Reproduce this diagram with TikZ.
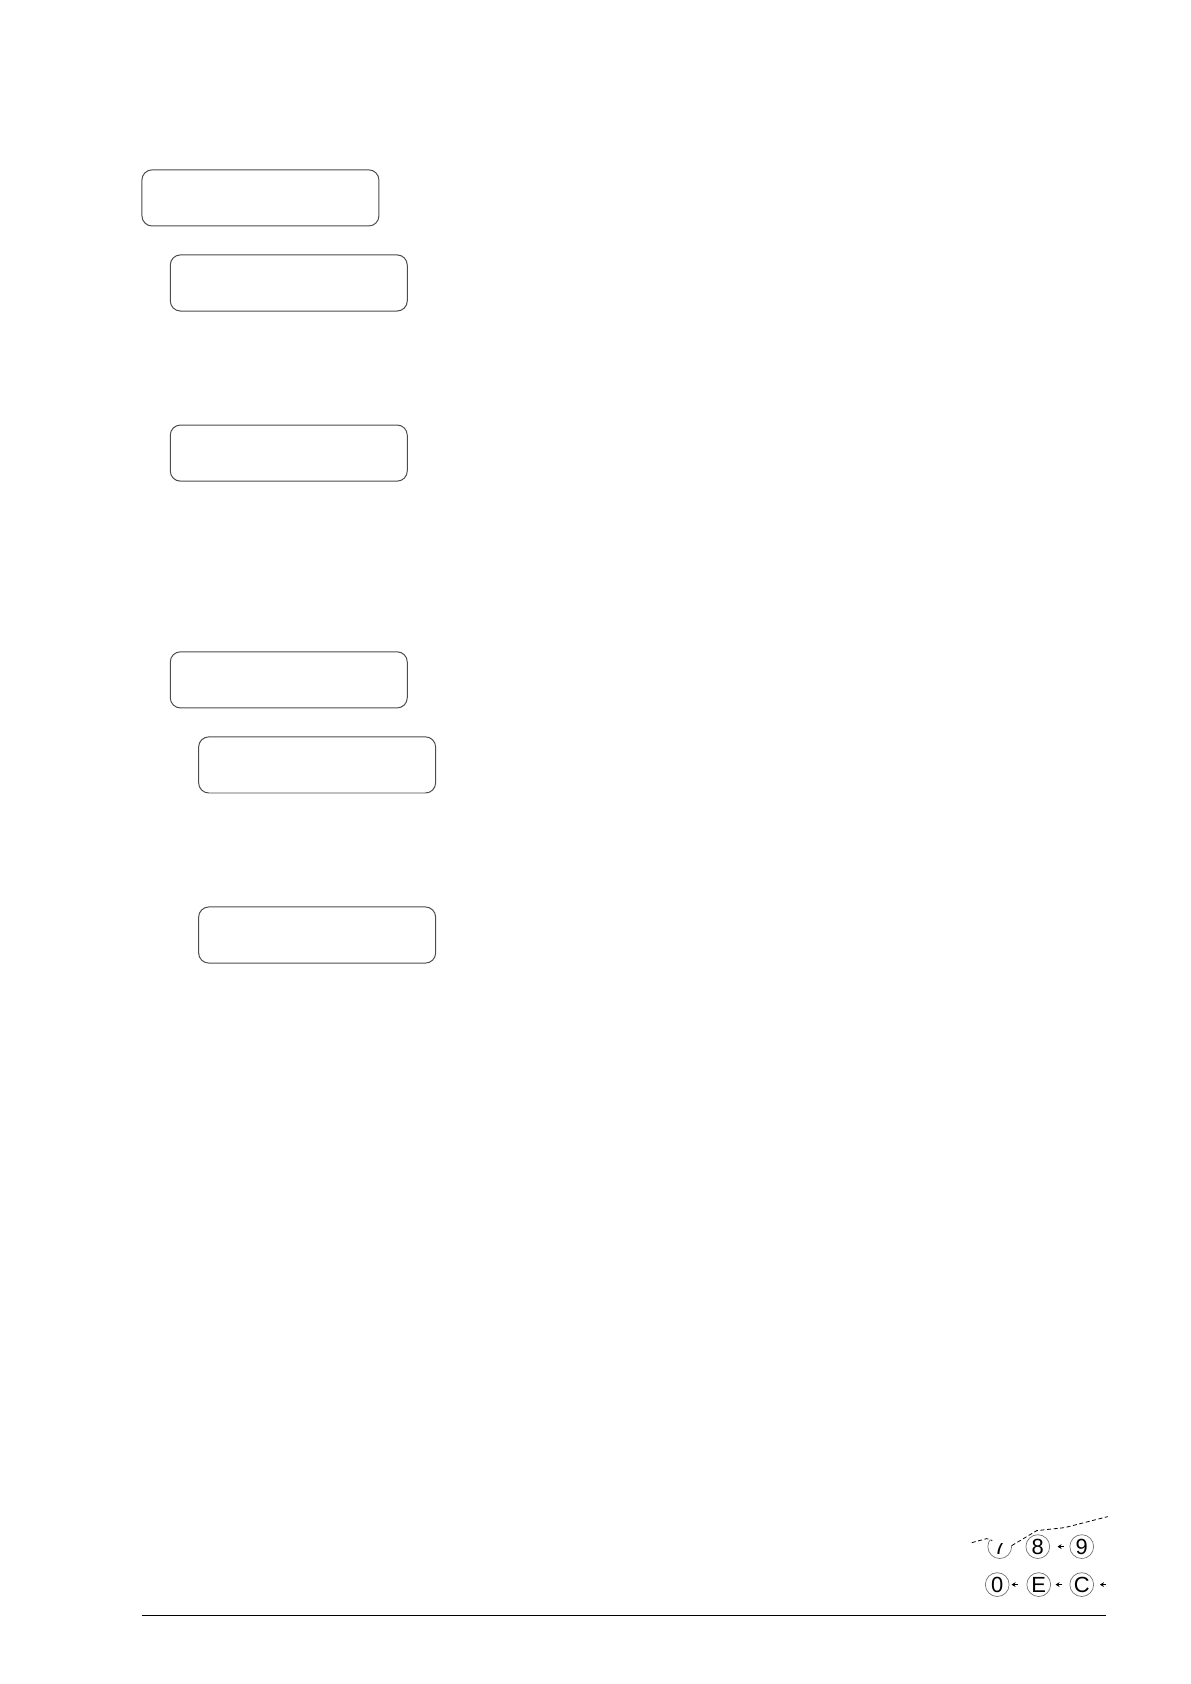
\documentclass[tikz,border=0pt]{standalone}
\usepackage{xcolor}
\usepackage{fontspec}
\newfontfamily\keyfont{Liberation Sans}
\usepackage{tikz}
\usetikzlibrary{shapes, arrows.meta, positioning, calc}
\tikzset{
    % LCD screens
    screen/.style={rectangle, rounded corners=0.18cm, draw=black!70, line width=0.5pt,
        minimum width=4.18cm, minimum height=0.99cm},
    % keypad
    key/.style={circle, draw=black!55, line width=0.35pt, minimum size=0.42cm, inner sep=0pt,
        font=\keyfont\fontsize{11}{13}\selectfont},
    nudge/.style={line width=0.5pt,-{Stealth[length=2pt,width=2.4pt]}},
    tear/.style={line width=0.4pt, dash pattern=on 2pt off 1.3pt}
}
\begin{document}
\begin{tikzpicture}[node distance=1.5cm]
        \useasboundingbox (0,0) rectangle (21,29.7);

        \node (disp1) [screen] at (4.593,26.209) {};
        \node (disp2) [screen, below of=disp1, xshift=0.5cm] {};
        \node (disp3) [screen, below of=disp2, yshift=-1.5cm] {};
        \node (disp4) [screen, below of=disp3, yshift=-2.5cm] {};
        \node (disp5) [screen, below of=disp4, xshift=0.5cm] {};
        \node (disp6) [screen, below of=disp5, yshift=-1.5cm] {};

        % torn keypad corner
        \begin{scope}
            \clip (17.0,2.493) -- (17.403,2.564) -- (17.844,2.441) -- (18.285,2.705) -- (18.285,2.0) -- (17.0,2.0) -- cycle;
            \node (k7) [key] at (17.632,2.423) {7};
        \end{scope}
        \node (k8) [key] at (18.303,2.423) {8};
        \node (k9) [key] at (19.078,2.423) {9};
        \node (k0) [key] at (17.588,1.753) {0};
        \node (kE) [key] at (18.320,1.753) {E};
        \node (kC) [key] at (19.078,1.753) {C};

        \draw [nudge] ([xshift=-3pt]k9.west) -- ([xshift=-6pt]k9.west);
        \draw [nudge] ([xshift=-4.5pt]kE.west) -- ([xshift=-7.5pt]kE.west);
        \draw [nudge] ([xshift=-4pt]kC.west) -- ([xshift=-7pt]kC.west);
        \draw [nudge] ([xshift=6pt]kC.east) -- ([xshift=3pt]kC.east);

        \draw [tear] (17.139,2.493) -- (17.403,2.564) -- (17.50,2.53);
        \draw [tear] (17.844,2.441) -- (18.285,2.705) -- (18.778,2.758) -- (19.537,2.952);

        % page rule
        \draw [line width=0.8pt] (2.504,1.206) -- (19.50,1.206);
    \end{tikzpicture}
\end{document}
